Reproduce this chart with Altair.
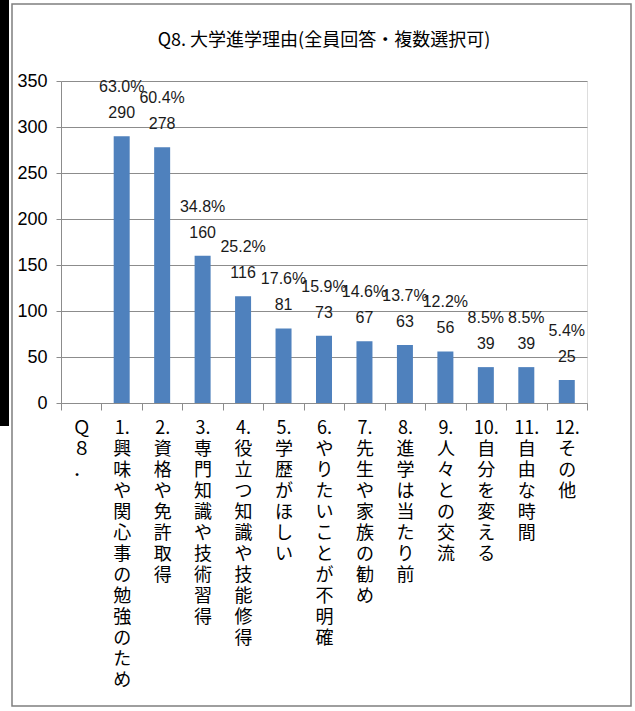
import altair as alt
import pandas as pd

# ---- data ----
categories = [
    "Ｑ８．",
    "1.興味や関心事の勉強のため",
    "2.資格や免許取得",
    "3.専門知識や技術習得",
    "4.役立つ知識や技能修得",
    "5.学歴がほしい",
    "6.やりたいことが不明確",
    "7.先生や家族の勧め",
    "8.進学は当たり前",
    "9.人々との交流",
    "10.自分を変える",
    "11.自由な時間",
    "12.その他",
]
counts = [290, 278, 160, 116, 81, 73, 67, 63, 56, 39, 39, 25]
percents = [63.0, 60.4, 34.8, 25.2, 17.6, 15.9, 14.6, 13.7, 12.2, 8.5, 8.5, 5.4]
y_ticks = [0, 50, 100, 150, 200, 250, 300, 350]
title_text = "Q8. 大学進学理由(全員回答・複数選択可)"

df = pd.DataFrame({
    "cat": categories[1:],
    "count": counts,
    "pct": percents,
})
df["pct_label"] = [f"{p:.1f}%" for p in percents]

NUM_FONT = "Liberation Sans"
JP_FONT = "Noto Sans CJK JP"
GRID = "#8c8c8c"
BAR = "#4F81BD"

x_enc = alt.X(
    "cat:N",
    scale=alt.Scale(domain=categories, paddingInner=0, paddingOuter=0),
    axis=alt.Axis(
        title=None,
        labelAngle=0,
        labelExpr="split(replace(datum.label, regexp('(?!^)(?<![0-9])(?=.)', 'g'), '|'), '|')",
        labelBaseline="top",
        labelAlign="center",
        labelFont=JP_FONT,
        labelFontSize=18,
        labelLineHeight=21,
        labelColor="#000000",
        labelPadding=9,
        labelOverlap=False,
        tickSize=7,
        tickBand="extent",
        tickColor=GRID,
        domainColor=GRID,
        grid=False,
    ),
)
y_enc = alt.Y(
    "count:Q",
    scale=alt.Scale(domain=[0, 350], nice=False),
    axis=alt.Axis(
        title=None,
        values=y_ticks,
        grid=True,
        gridColor=GRID,
        domainColor=GRID,
        tickColor=GRID,
        tickSize=5,
        labelFont=NUM_FONT,
        labelFontSize=18,
        labelPadding=9,
        labelColor="#000000",
    ),
)

base = alt.Chart(df)
bars = base.mark_bar(size=16, color=BAR).encode(x=x_enc, y=y_enc)
count_text = base.mark_text(dy=-23, baseline="middle", font=NUM_FONT, fontSize=16, color="#1a1a1a").encode(
    x=alt.X("cat:N", scale=alt.Scale(domain=categories)),
    y=alt.Y("count:Q"),
    text=alt.Text("count:Q"),
)
pct_text = base.mark_text(dy=-49, baseline="middle", font=NUM_FONT, fontSize=16, color="#1a1a1a").encode(
    x=alt.X("cat:N", scale=alt.Scale(domain=categories)),
    y=alt.Y("count:Q"),
    text=alt.Text("pct_label:N"),
)

deco = alt.Data(values=[{"k": 1}])
frame = alt.Chart(deco).mark_rect(fillOpacity=0, stroke="#7f7f7f", strokeWidth=1.5).encode(
    x=alt.value(-49), x2=alt.value(570), y=alt.value(-77), y2=alt.value(625)
)
strip = alt.Chart(deco).mark_rect(color="#000000").encode(
    x=alt.value(-61), x2=alt.value(-52), y=alt.value(-81), y2=alt.value(345)
)

chart = alt.layer(strip, frame, bars, count_text, pct_text).properties(
    width=526,
    height=322,
    autosize=alt.AutoSizeParams(type="none"),
    padding={"left": 61, "top": 81, "right": 48, "bottom": 308},
    title=alt.TitleParams(
        title_text,
        anchor="middle",
        frame="group",
        font=JP_FONT,
        fontSize=18,
        fontWeight="normal",
        color="#000000",
        baseline="bottom",
        offset=-68,
    ),
).configure_view(stroke=None).configure(background="#ffffff")

chart.save("out.html", embed_options={"renderer": "svg", "actions": False})
